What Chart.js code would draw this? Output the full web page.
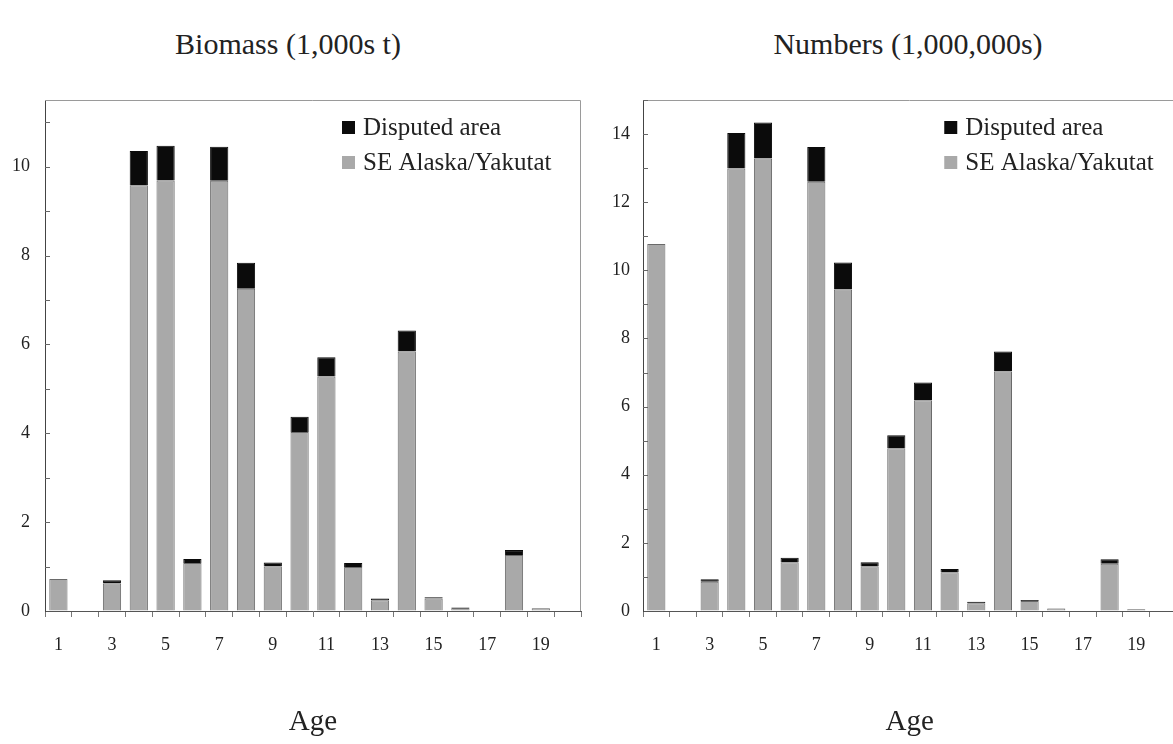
<!DOCTYPE html>
<html lang="en">
<head>
    <meta charset="UTF-8">
    <title>Biomass and numbers by age</title>
    <script src="https://cdn.jsdelivr.net/npm/chart.js"></script>
    <style>
        html, body {
            margin: 0;
            padding: 0;
            background: #fff;
            width: 1173px;
            height: 744px;
            overflow: hidden;
        }
        .painel { position: absolute; top: 0; }
        #painelEsq { left: 0; }
        #painelDir { left: 600px; }
        .titulo {
            position: absolute;
            top: 27px;
            font-family: 'Liberation Serif', 'DejaVu Serif', serif;
            font-size: 30px;
            color: #222;
            white-space: nowrap;
            transform: translateX(-50%);
        }
    </style>
</head>
<body>
<div class="titulo" style="left:288px">Biomass (1,000s t)</div>
<div class="titulo" style="left:908px">Numbers (1,000,000s)</div>
<div class="painel" id="painelEsq"><canvas id="graficoBiomassa" width="600" height="744"></canvas></div>
<div class="painel" id="painelDir"><canvas id="graficoNumeros" width="580" height="744"></canvas></div>
<script>
    // idades (anos)
    const idades = ['1','2','3','4','5','6','7','8','9','10','11','12','13','14','15','16','17','18','19','20'];

    // Biomassa (1.000 t)
    const biomassaSE   = [0.72, 0, 0.62, 9.58, 9.69, 1.08, 9.68, 7.25, 1.00, 4.03, 5.28, 0.99, 0.24, 5.84, 0.28, 0.07, 0, 1.26, 0.06, 0];
    const biomassaDisp = [0, 0, 0.07, 0.77, 0.78, 0.09, 0.77, 0.59, 0.09, 0.34, 0.43, 0.09, 0.04, 0.47, 0.03, 0.01, 0, 0.11, 0.01, 0];

    // Números (1.000.000)
    const numerosSE   = [10.77, 0, 0.86, 12.99, 13.28, 1.43, 12.60, 9.44, 1.31, 4.78, 6.19, 1.14, 0.23, 7.03, 0.29, 0.07, 0, 1.39, 0.05, 0];
    const numerosDisp = [0, 0, 0.07, 1.04, 1.06, 0.13, 1.02, 0.79, 0.12, 0.38, 0.52, 0.09, 0.04, 0.59, 0.03, 0.01, 0, 0.13, 0.01, 0];

    const rotuloSE = 'SE Alaska/Yakutat';
    const rotuloDisp = 'Disputed area';

    const FONTE = "'Liberation Serif', 'DejaVu Serif', serif";
    const CINZA = '#a9a9a9';
    const PRETO = '#0b0b0b';

    // moldura (topo e direita) + ticks internos no eixo y
    const moldura = {
        id: 'moldura',
        afterDraw(chart) {
            const { ctx, chartArea: a, scales } = chart;
            ctx.save();
            ctx.strokeStyle = '#9a9a9a';
            ctx.lineWidth = 1;
            ctx.beginPath();
            ctx.moveTo(a.left, a.top + 0.5);
            ctx.lineTo(a.right - 0.5, a.top + 0.5);
            ctx.lineTo(a.right - 0.5, a.bottom);
            ctx.stroke();
            ctx.strokeStyle = '#666';
            ctx.beginPath();
            scales.y.ticks.forEach(t => {
                if (!Number.isInteger(t.value) || t.value === 0) return;
                const py = Math.round(scales.y.getPixelForValue(t.value)) + 0.5;
                ctx.moveTo(a.left, py);
                ctx.lineTo(a.left + 5, py);
            });
            ctx.stroke();
            ctx.restore();
        }
    };

    // legenda dentro da área do gráfico
    const legendaInterna = {
        id: 'legendaInterna',
        afterDraw(chart, args, opts) {
            const { ctx, chartArea: a } = chart;
            const x = a.right - opts.recuo;
            const itens = [...chart.data.datasets].reverse();
            ctx.save();
            ctx.font = '25px ' + FONTE;
            ctx.textBaseline = 'middle';
            itens.forEach((ds, i) => {
                const y = a.top + 27.5 + i * 35;
                ctx.fillStyle = ds.backgroundColor;
                ctx.fillRect(x, y - 6.5, 13, 13);
                ctx.fillStyle = '#222';
                ctx.fillText(ds.label, x + 21, y + 1);
            });
            ctx.restore();
        }
    };

    function criarGrafico(id, valoresSE, valoresDisp, maximo, larguraY, padDir, recuoLegenda, padTicks) {
        return new Chart(document.getElementById(id), {
            type: 'bar',
            data: {
                labels: idades,
                datasets: [
                    { label: rotuloSE, data: valoresSE, backgroundColor: CINZA, borderColor: '#6a6a6a', borderWidth: 1 },
                    { label: rotuloDisp, data: valoresDisp, backgroundColor: PRETO, borderColor: PRETO, borderWidth: 1 }
                ]
            },
            options: {
                responsive: false,
                animation: false,
                layout: { padding: { top: 100, right: padDir, left: 0, bottom: 0 } },
                datasets: { bar: { categoryPercentage: 1, barPercentage: 0.68 } },
                plugins: {
                    legend: { display: false },
                    tooltip: { enabled: false },
                    legendaInterna: { recuo: recuoLegenda }
                },
                scales: {
                    x: {
                        stacked: true,
                        afterFit: s => { s.height = 133; },
                        grid: { drawOnChartArea: false, drawTicks: true, tickLength: 6, offset: true, color: '#777' },
                        border: { display: true, color: '#555' },
                        ticks: {
                            autoSkip: false, maxRotation: 0, padding: 17, color: '#222',
                            font: { family: FONTE, size: 18 },
                            callback: function (v, i) { return i % 2 === 0 ? this.getLabelForValue(v) : ''; }
                        },
                        title: {
                            display: true, text: 'Age', color: '#222',
                            font: { family: FONTE, size: 29 },
                            padding: { top: 0, bottom: 4 }
                        }
                    },
                    y: {
                        stacked: true,
                        min: 0,
                        max: maximo,
                        afterFit: s => { s.width = larguraY; },
                        grid: { drawOnChartArea: false, drawTicks: false },
                        border: { display: true, color: '#444' },
                        ticks: {
                            stepSize: 1, padding: padTicks, color: '#222',
                            font: { family: FONTE, size: 18 },
                            callback: v => (v % 2 === 0 ? v : '')
                        }
                    }
                }
            },
            plugins: [moldura, legendaInterna]
        });
    }

    criarGrafico('graficoBiomassa', biomassaSE, biomassaDisp, 11.5, 45, 19, 239, 15);
    criarGrafico('graficoNumeros', numerosSE, numerosDisp, 15, 43, 3, 232, 13);
</script>
</body>
</html>
